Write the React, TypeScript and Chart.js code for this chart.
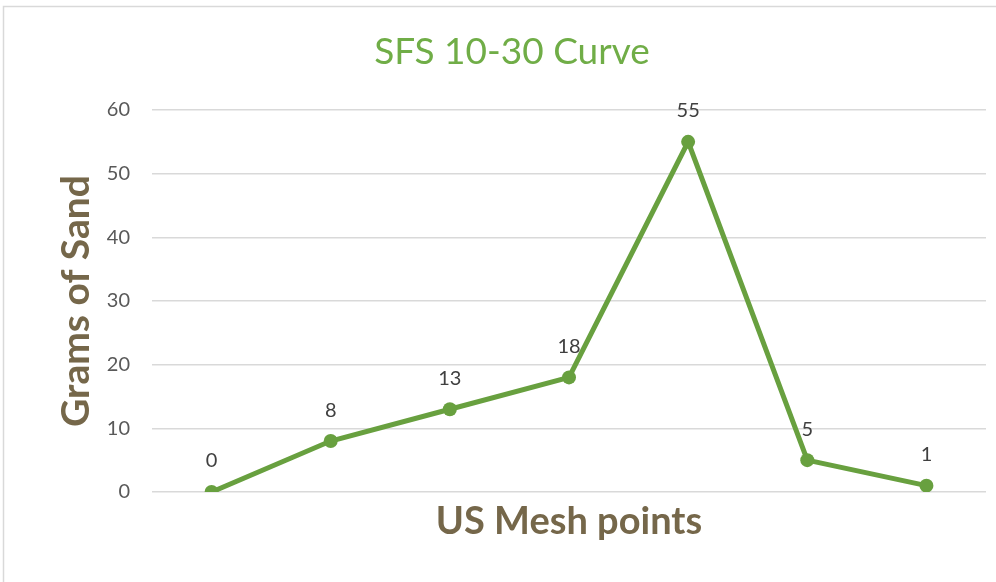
import React, { useEffect, useRef } from "react";
import { Chart, registerables } from "chart.js";

Chart.register(...registerables);

const categories = ["", "", "", "", "", "", ""];
const gramsOfSand = [0, 8, 13, 18, 55, 5, 1];
const yTicks = { min: 0, max: 60, step: 10 };

const chartTitle = "SFS 10-30 Curve";
const xTitle = "US Mesh points";
const yTitle = "Grams of Sand";

const FONT = "Lato, 'Open Sans', sans-serif";
const GREEN_TITLE = "#70AD47";
const GREEN_LINE = "#68A03F";
const BROWN = "#75674A";

const framePlugin = {
  id: "frame",
  beforeDraw(chart: any) {
    const { ctx, width, height } = chart;
    ctx.save();
    ctx.fillStyle = "#ffffff";
    ctx.fillRect(0, 0, width, height);
    ctx.strokeStyle = "#d9d9d9";
    ctx.lineWidth = 1.5;
    ctx.beginPath();
    ctx.moveTo(3.5, height + 5);
    ctx.lineTo(3.5, 6.5);
    ctx.lineTo(width + 5, 6.5);
    ctx.stroke();
    ctx.restore();
  },
};

const titlePlugin = {
  id: "centeredTitle",
  afterDraw(chart: any) {
    const { ctx } = chart;
    ctx.save();
    ctx.font = `37px ${FONT}`;
    ctx.fillStyle = GREEN_TITLE;
    ctx.textAlign = "center";
    ctx.textBaseline = "alphabetic";
    ctx.fillText(chartTitle, 512, 64);
    ctx.restore();
  },
};

const labelPlugin = {
  id: "valueLabels",
  afterDatasetsDraw(chart: any) {
    const { ctx } = chart;
    const meta = chart.getDatasetMeta(0);
    const data = chart.data.datasets[0].data;
    ctx.save();
    ctx.font = `20px ${FONT}`;
    ctx.fillStyle = "#404040";
    ctx.textAlign = "center";
    ctx.textBaseline = "middle";
    meta.data.forEach((pt: any, i: number) => {
      ctx.fillText(String(data[i]), pt.x, pt.y - 31);
    });
    ctx.restore();
  },
};

export default function App() {
  const ref = useRef<HTMLCanvasElement>(null);
  useEffect(() => {
    if (!ref.current) return;
    const chart = new Chart(ref.current, {
      type: "line",
      data: {
        labels: categories,
        datasets: [
          {
            data: gramsOfSand,
            borderColor: GREEN_LINE,
            backgroundColor: GREEN_LINE,
            borderWidth: 5,
            pointRadius: 7,
            pointHoverRadius: 7,
            pointBackgroundColor: GREEN_LINE,
            pointBorderWidth: 0,
            tension: 0,
          },
        ],
      },
      options: {
        animation: false,
        responsive: false,
        devicePixelRatio: 1,
        layout: { padding: { top: 110, left: 0, right: 10, bottom: 0 } },
        plugins: {
          legend: { display: false },
          tooltip: { enabled: false },
          title: { display: false },
        },
        scales: {
          x: {
            offset: true,
            grid: { display: false },
            border: { display: false },
            ticks: { display: false },
            title: {
              display: true,
              text: xTitle,
              color: BROWN,
              font: { family: FONT, size: 38, weight: "bold", lineHeight: 1.2 },
              padding: { top: 0, bottom: 37 },
            },
            afterFit(scale: any) {
              scale.height = 90;
            },
          },
          y: {
            min: yTicks.min,
            max: yTicks.max,
            ticks: {
              stepSize: yTicks.step,
              color: "#595959",
              font: { family: FONT, size: 20 },
              padding: 22,
            },
            grid: { color: "#d9d9d9", lineWidth: 1.5, drawTicks: false },
            border: { display: false },
            title: {
              display: true,
              text: yTitle,
              color: BROWN,
              font: { family: FONT, size: 39, weight: "bold", lineHeight: 1.2 },
              padding: { top: 53, bottom: 0 },
            },
            afterFit(scale: any) {
              scale.width = 152;
            },
          },
        },
      },
      plugins: [framePlugin, titlePlugin, labelPlugin],
    } as any);
    return () => chart.destroy();
  }, []);
  return (
    <div style={{ position: "absolute", left: 0, top: 0, width: 996, height: 582 }}>
      <canvas ref={ref} width={996} height={582} style={{ display: "block" }} />
    </div>
  );
}
